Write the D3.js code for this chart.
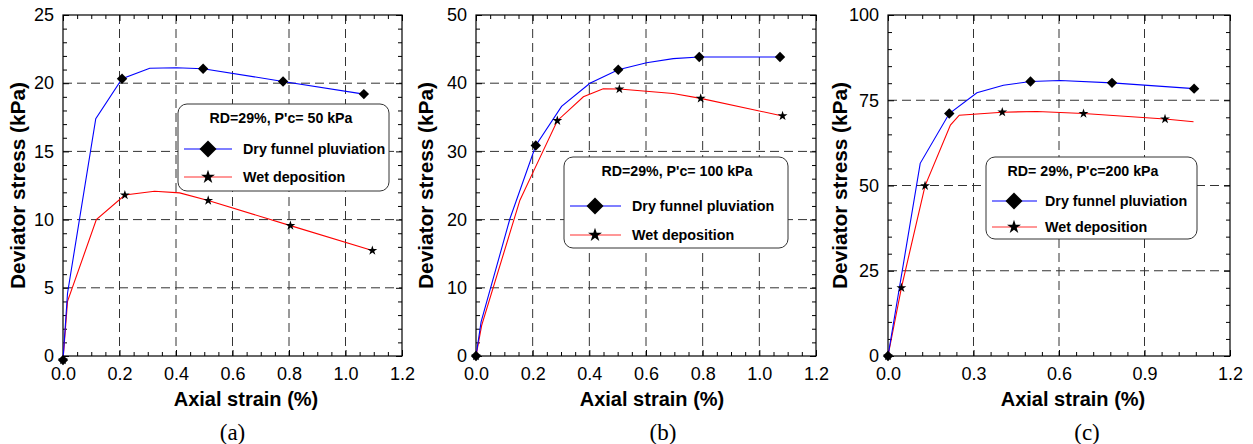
<!DOCTYPE html>
<html>
<head>
<meta charset="utf-8">
<script src="https://cdn.jsdelivr.net/npm/d3@7"></script>
<style>
  body { margin: 0; background: #fff; }
  svg { display: block; font-family: "Liberation Sans", Arial, sans-serif; }
</style>
</head>
<body>
<div id="chart"></div>
<script>
// strain (%) / deviator stress (kPa)
// panel (a) P'c = 50 kPa
const dryLineA = [[0, -0.3], [0.016, 4.6], [0.116, 17.4], [0.209, 20.33], [0.307, 21.1], [0.401, 21.13], [0.496, 21.06], [0.779, 20.13], [1.065, 19.2]]
const dryPtsA  = [[0, -0.3], [0.209, 20.33], [0.496, 21.06], [0.779, 20.13], [1.065, 19.2]]
const wetLineA = [[0, -0.3], [0.016, 4.0], [0.118, 10.0], [0.219, 11.8], [0.324, 12.08], [0.413, 11.96], [0.514, 11.4], [0.805, 9.56], [1.095, 7.73]]
const wetPtsA  = [[0, -0.3], [0.219, 11.8], [0.514, 11.4], [0.805, 9.56], [1.095, 7.73]]

// panel (b) P'c = 100 kPa
const dryLineB = [[0, 0], [0.018, 5.0], [0.12, 20.16], [0.211, 30.87], [0.302, 36.6], [0.402, 40.0], [0.502, 41.98], [0.602, 43.0], [0.696, 43.6], [0.788, 43.84], [1.073, 43.84]]
const dryPtsB  = [[0, 0], [0.211, 30.87], [0.502, 41.98], [0.788, 43.84], [1.073, 43.84]]
const wetLineB = [[0, 0], [0.02, 4.5], [0.155, 22.85], [0.202, 27.0], [0.287, 34.5], [0.379, 38.0], [0.449, 39.19], [0.506, 39.14], [0.696, 38.5], [0.793, 37.77], [1.082, 35.2]]
const wetPtsB  = [[0, 0], [0.287, 34.5], [0.506, 39.14], [0.793, 37.77], [1.082, 35.2]]

// panel (c) P'c = 200 kPa
const dryLineC = [[0, 0], [0.113, 56.5], [0.215, 71.1], [0.312, 77.2], [0.405, 79.4], [0.5, 80.5], [0.604, 80.8], [0.786, 80.1], [1.074, 78.4]]
const dryPtsC  = [[0, 0], [0.215, 71.1], [0.5, 80.5], [0.786, 80.1], [1.074, 78.4]]
const wetLineC = [[0, 0], [0.047, 20.0], [0.13, 49.9], [0.219, 67.7], [0.25, 70.6], [0.401, 71.5], [0.523, 71.7], [0.686, 71.1], [0.972, 69.5], [1.072, 68.7]]
const wetPtsC  = [[0, 0], [0.047, 20.0], [0.13, 49.9], [0.401, 71.5], [0.686, 71.1], [0.972, 69.5]]

const legendTitles = ["RD=29%, P'c= 50 kPa", "RD=29%, P'c= 100 kPa", "RD= 29%, P'c=200 kPa"]
const seriesNames = ["Dry funnel pluviation", "Wet deposition"]
const panelLabels = ["(a)", "(b)", "(c)"]
const xTitle = "Axial strain (%)"
const yTitle = "Deviator stress (kPa)"

const panels = [
  { left: 63, right: 402, yMax: 25, yMajor: 5, yMinor: 1, xMajor: 0.2, xMinor: 0.05,
    dry: dryLineA, dryPts: dryPtsA, wet: wetLineA, wetPts: wetPtsA,
    xtDx: 13.5, ytDx: 38, plDx: 0,
    legend: { x: 178, y: 104, w: 211, h: 87, tcx: 281, row1: 149, row2: 177, mx: 208, l0: 184, l1: 232, tx: 243 } },
  { left: 476, right: 816, yMax: 50, yMajor: 10, yMinor: 2, xMajor: 0.2, xMinor: 0.05,
    dry: dryLineB, dryPts: dryPtsB, wet: wetLineB, wetPts: wetPtsB,
    xtDx: 6, ytDx: 43, plDx: 17,
    legend: { x: 564, y: 157, w: 224, h: 91, tcx: 677, row1: 206, row2: 235, mx: 595, l0: 570, l1: 621, tx: 632 } },
  { left: 888, right: 1230, yMax: 100, yMajor: 25, yMinor: 5, xMajor: 0.3, xMinor: 0.06,
    dry: dryLineC, dryPts: dryPtsC, wet: wetLineC, wetPts: wetPtsC,
    xtDx: 14, ytDx: 41, plDx: 28,
    legend: { x: 986, y: 157, w: 211, h: 82, tcx: 1083, row1: 201, row2: 227, mx: 1014, l0: 992, l1: 1037, tx: 1045 } },
]

const plotTop = 15, plotBottom = 356
const W = 1253, H = 444

const svg = d3.select("#chart").append("svg")
  .attr("width", W)
  .attr("height", H)

const steps = (a, b, step) => d3.range(0, Math.round((b - a) / step) + 1).map(i => +(a + i * step).toFixed(4))

const diamond = r => `M0,${-r}L${r},0L0,${r}L${-r},0Z`

panels.forEach((p, i) => {
  const x = d3.scaleLinear().domain([0, 1.2]).range([p.left, p.right])
  const y = d3.scaleLinear().domain([0, p.yMax]).range([plotBottom, plotTop])

  const xMajors = steps(0, 1.2, p.xMajor)
  const xMinors = steps(0, 1.2, p.xMinor)
  const yMajors = steps(0, p.yMax, p.yMajor)
  const yMinors = steps(0, p.yMax, p.yMinor)

  const g = svg.append("g")

  // dashed grid at interior majors
  const grid = g.append("g")
    .attr("stroke", "#333")
    .attr("stroke-width", 1)
    .attr("stroke-dasharray", "9,5")
  grid.selectAll(".gx")
    .data(xMajors.slice(1, -1))
    .join("line")
      .attr("class", "gx")
      .attr("x1", d => x(d)).attr("x2", d => x(d))
      .attr("y1", plotTop).attr("y2", plotBottom)
  grid.selectAll(".gy")
    .data(yMajors.slice(1, -1))
    .join("line")
      .attr("class", "gy")
      .attr("x1", p.left).attr("x2", p.right)
      .attr("y1", d => y(d)).attr("y2", d => y(d))

  // inward ticks on all four sides
  const addAxis = (axis, transform) => {
    const a = g.append("g").attr("transform", transform).call(axis)
    a.select(".domain").remove()
    a.selectAll("line").attr("stroke", "#000")
    return a
  }
  const minorX = xMinors.filter(v => !xMajors.includes(v))
  const minorY = yMinors.filter(v => !yMajors.includes(v))

  addAxis(d3.axisBottom(x).tickValues(minorX).tickSize(-4).tickFormat(""), `translate(0,${plotBottom})`)
  addAxis(d3.axisTop(x).tickValues(minorX).tickSize(-4).tickFormat(""), `translate(0,${plotTop})`)
  addAxis(d3.axisLeft(y).tickValues(minorY).tickSize(-4).tickFormat(""), `translate(${p.left},0)`)
  addAxis(d3.axisRight(y).tickValues(minorY).tickSize(-4).tickFormat(""), `translate(${p.right},0)`)
  addAxis(d3.axisTop(x).tickValues(xMajors).tickSize(-6).tickFormat(""), `translate(0,${plotTop})`)
  addAxis(d3.axisRight(y).tickValues(yMajors).tickSize(-6).tickFormat(""), `translate(${p.right},0)`)

  const xa = addAxis(d3.axisBottom(x).tickValues(xMajors).tickSize(-6).tickPadding(11).tickFormat(d3.format(".1f")),
    `translate(0,${plotBottom})`)
  const ya = addAxis(d3.axisLeft(y).tickValues(yMajors).tickSize(-6).tickPadding(9).tickFormat(d3.format("d")),
    `translate(${p.left},0)`)
  ;[xa, ya].forEach(a => a.selectAll("text")
    .attr("font-family", "'Liberation Sans', Arial, sans-serif")
    .attr("font-size", 18)
    .attr("fill", "#000"))

  // frame
  g.append("rect")
    .attr("x", p.left).attr("y", plotTop)
    .attr("width", p.right - p.left).attr("height", plotBottom - plotTop)
    .attr("fill", "none")
    .attr("stroke", "#000")
    .attr("stroke-width", 1.2)

  // series
  const line = d3.line().x(d => x(d[0])).y(d => y(d[1]))
  g.append("path").datum(p.wet).attr("d", line)
    .attr("fill", "none").attr("stroke", "#ff0000").attr("stroke-width", 1.1)
  g.append("path").datum(p.dry).attr("d", line)
    .attr("fill", "none").attr("stroke", "#0000ff").attr("stroke-width", 1.1)

  g.append("g").selectAll("path")
    .data(p.wetPts)
    .join("path")
      .attr("d", d3.symbol(d3.symbolStar, 30))
      .attr("transform", d => `translate(${x(d[0])},${y(d[1])})`)
      .attr("fill", "#000")
  g.append("g").selectAll("path")
    .data(p.dryPts)
    .join("path")
      .attr("d", diamond(5.2))
      .attr("transform", d => `translate(${x(d[0])},${y(d[1])})`)
      .attr("fill", "#000")

  // legend
  const L = p.legend
  const lg = g.append("g")
  lg.append("rect")
    .attr("x", L.x).attr("y", L.y).attr("width", L.w).attr("height", L.h)
    .attr("rx", 9).attr("ry", 9)
    .attr("fill", "#fff").attr("stroke", "#333").attr("stroke-width", 1)
  lg.append("text")
    .attr("x", L.tcx).attr("y", L.y + 19)
    .attr("text-anchor", "middle")
    .attr("font-size", 14.2).attr("font-weight", "bold")
    .text(legendTitles[i])
  const rows = [
    { cy: L.row1, color: "#0000ff", sym: "d", name: seriesNames[0] },
    { cy: L.row2, color: "#ff3030", sym: "s", name: seriesNames[1] },
  ]
  rows.forEach(r => {
    lg.append("line")
      .attr("x1", L.l0).attr("x2", L.l1).attr("y1", r.cy).attr("y2", r.cy)
      .attr("stroke", r.color).attr("stroke-width", 1.2)
    lg.append("path")
      .attr("d", r.sym == "d" ? diamond(8.5) : d3.symbol(d3.symbolStar, 60)())
      .attr("transform", `translate(${L.mx},${r.cy})`)
      .attr("fill", "#000")
    lg.append("text")
      .attr("x", L.tx).attr("y", r.cy + 5)
      .attr("font-size", 14.3).attr("font-weight", "bold")
      .text(r.name)
  })

  // titles
  const cx = (p.left + p.right) / 2
  g.append("text")
    .attr("x", cx + p.xtDx).attr("y", 406)
    .attr("text-anchor", "middle")
    .attr("font-size", 20).attr("font-weight", "bold")
    .text(xTitle)
  g.append("text")
    .attr("transform", `translate(${p.left - p.ytDx},${(plotTop + plotBottom) / 2}) rotate(-90)`)
    .attr("text-anchor", "middle")
    .attr("font-size", 20.8).attr("font-weight", "bold")
    .text(yTitle)
  g.append("text")
    .attr("x", cx + p.plDx).attr("y", 440)
    .attr("text-anchor", "middle")
    .attr("font-family", "'Liberation Serif', 'Times New Roman', serif")
    .attr("font-size", 23)
    .text(panelLabels[i])
})
</script>
</body>
</html>
